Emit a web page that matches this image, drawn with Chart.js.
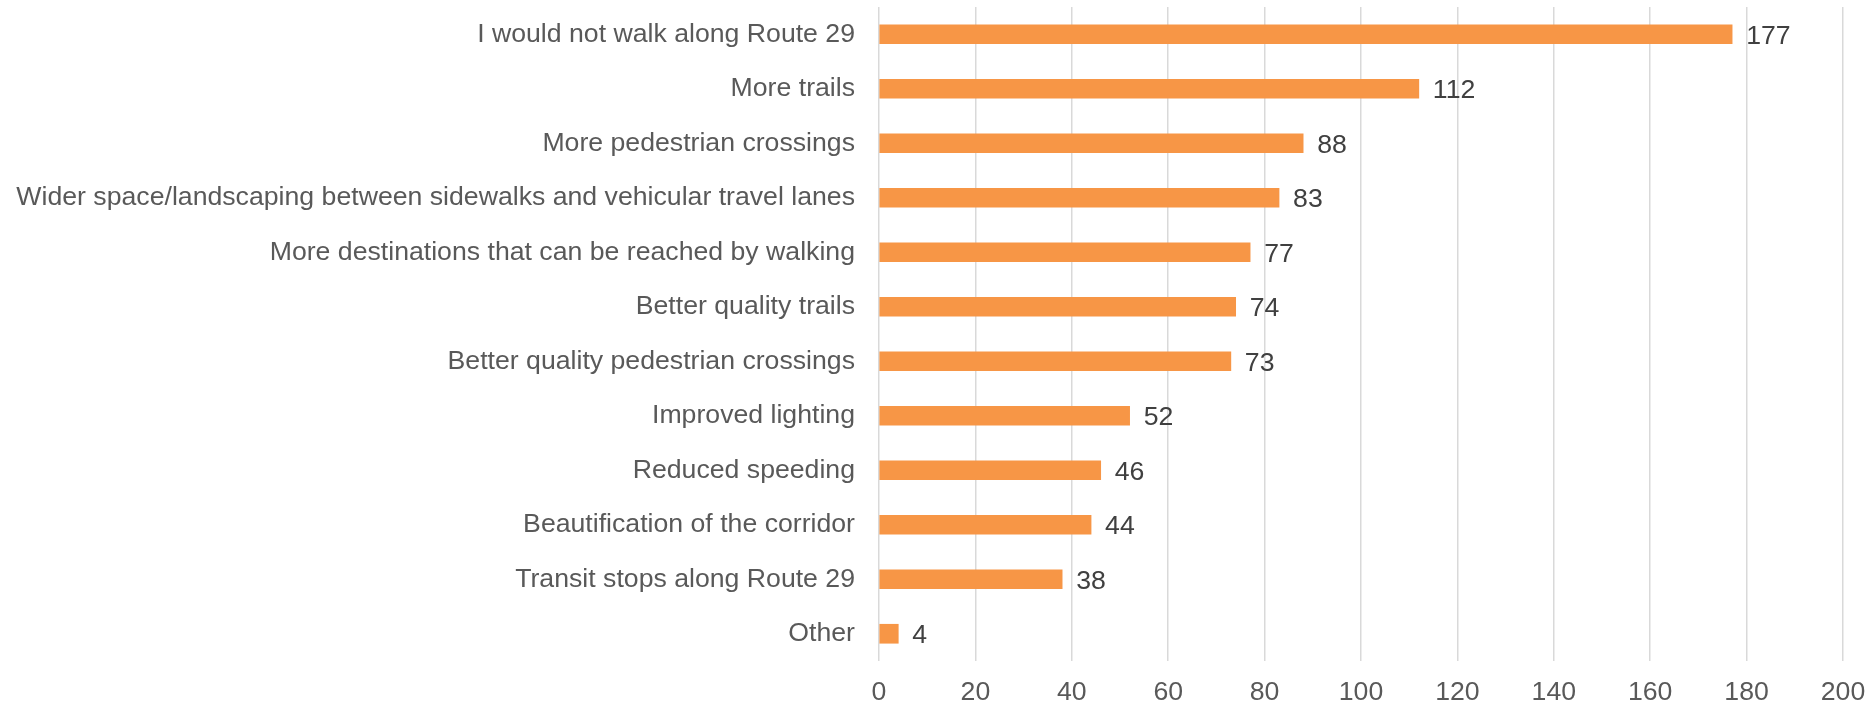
<!DOCTYPE html>
<html>
<head>
<meta charset="utf-8">
<script src="https://cdn.jsdelivr.net/npm/chart.js@4/dist/chart.umd.min.js"></script>
<style>
  html, body { margin: 0; padding: 0; background: #fff; overflow: hidden; }
</style>
</head>
<body>
<canvas id="barChart" width="1873" height="707"></canvas>
<script>
var categories = [
  'I would not walk along Route 29',
  'More trails',
  'More pedestrian crossings',
  'Wider space/landscaping between sidewalks and vehicular travel lanes',
  'More destinations that can be reached by walking',
  'Better quality trails',
  'Better quality pedestrian crossings',
  'Improved lighting',
  'Reduced speeding',
  'Beautification of the corridor',
  'Transit stops along Route 29',
  'Other'
];
var counts = [177, 112, 88, 83, 77, 74, 73, 52, 46, 44, 38, 4];
var xTicks = [0, 20, 40, 60, 80, 100, 120, 140, 160, 180, 200];

var FONT = '"Liberation Sans", Arial, sans-serif';

// draws the count just right of each bar
var valueLabels = {
  id: 'valueLabels',
  afterDatasetsDraw: function (chart) {
    var ctx = chart.ctx;
    var meta = chart.getDatasetMeta(0);
    ctx.save();
    ctx.font = '26.67px ' + FONT;
    ctx.fillStyle = '#404040';
    ctx.textAlign = 'left';
    ctx.textBaseline = 'middle';
    meta.data.forEach(function (bar, i) {
      ctx.fillText(chart.data.datasets[0].data[i], bar.x + 14, bar.y + 2);
    });
    ctx.restore();
  }
};

var ctx = document.getElementById('barChart').getContext('2d');
var graph = new Chart(ctx, {
  type: 'bar',
  data: {
    labels: categories,
    datasets: [{
      data: counts,
      backgroundColor: '#f79646',
      barThickness: 19
    }]
  },
  options: {
    indexAxis: 'y',
    responsive: false,
    animation: false,
    layout: { padding: { top: 7, right: 30, bottom: 0, left: 0 } },
    plugins: {
      legend: { display: false },
      tooltip: { enabled: false }
    },
    scales: {
      x: {
        min: 0,
        max: 200,
        afterBuildTicks: function (axis) {
          axis.ticks = xTicks.map(function (v) { return { value: v }; });
        },
        afterFit: function (axis) {
          axis.height = 46;
          axis.paddingBottom = 0;
          axis.paddingRight = 0;
          axis.paddingLeft = 0;
        },
        grid: { color: '#d9d9d9', lineWidth: 1.5, drawTicks: false },
        border: { display: false },
        ticks: {
          color: '#595959',
          padding: 16,
          font: { family: FONT, size: 26.67 }
        }
      },
      y: {
        grid: { display: false },
        border: { display: false },
        afterFit: function (axis) {
          axis.width = 879;
          axis.paddingTop = 0;
          axis.paddingBottom = 0;
        },
        ticks: {
          color: '#595959',
          padding: 16,
          font: { family: FONT, size: 26.67 }
        }
      }
    }
  },
  plugins: [valueLabels]
});
</script>
</body>
</html>
